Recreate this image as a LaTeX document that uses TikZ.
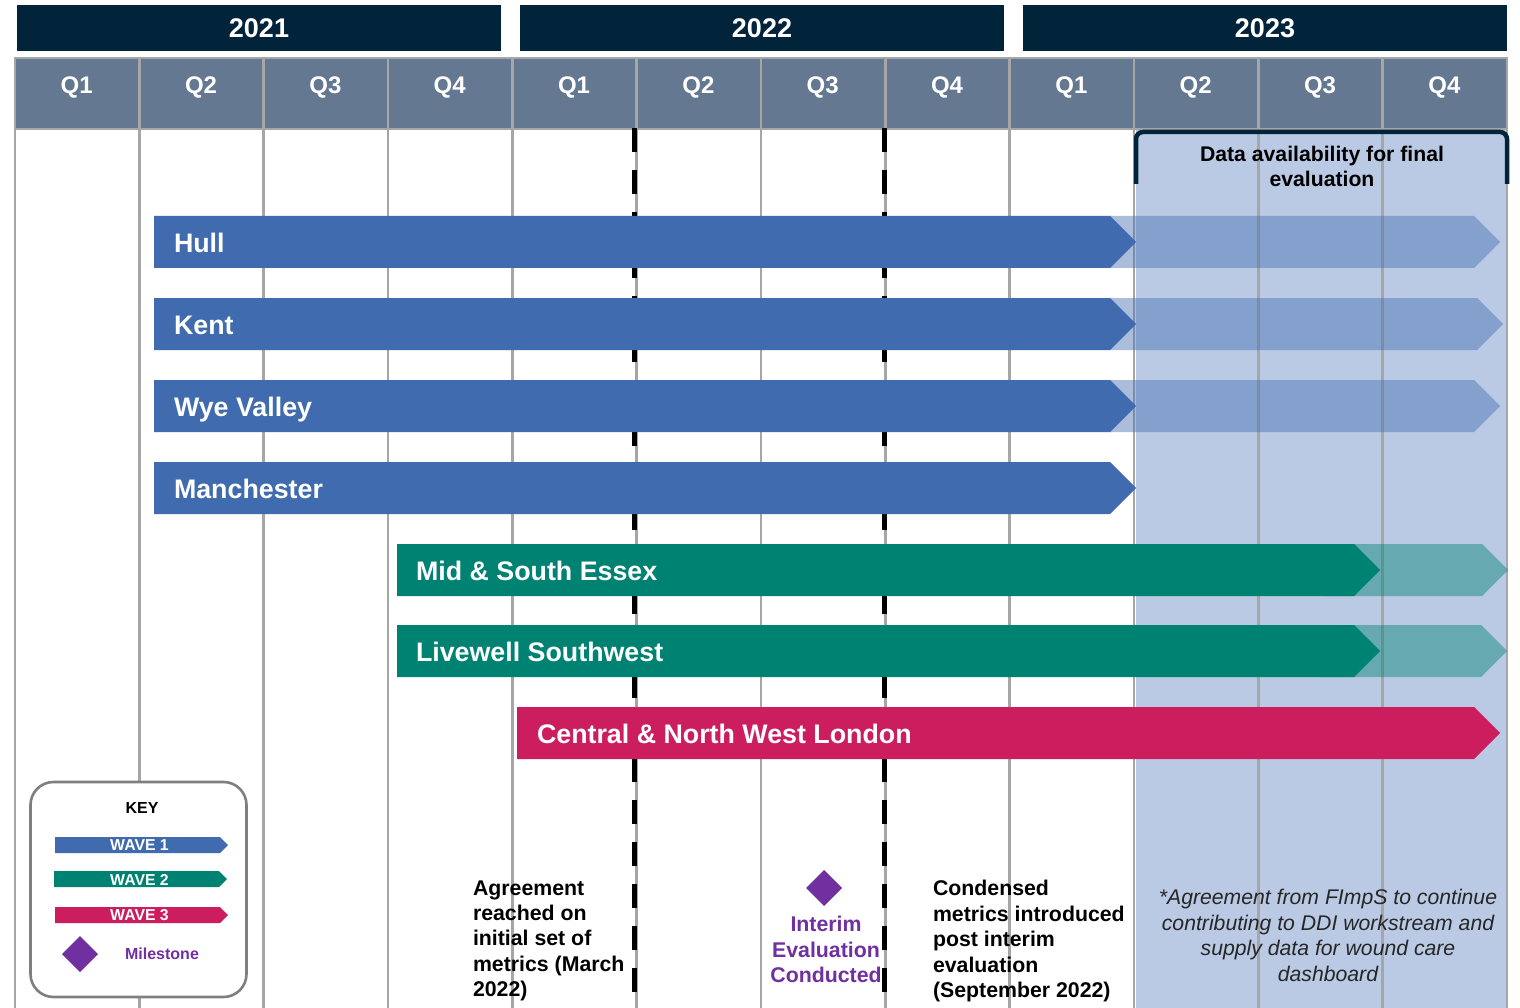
\documentclass[tikz,border=0pt]{standalone}
\usepackage{fontspec}
\setmainfont{Liberation Sans}
\usetikzlibrary{shapes.geometric}
\definecolor{navy}{HTML}{02243B}
\definecolor{qhead}{HTML}{647891}
\definecolor{gridgray}{HTML}{A6A6A6}
\definecolor{shadeblue}{HTML}{BACAE4}
\definecolor{wblue}{HTML}{406BAE}
\definecolor{wgreen}{HTML}{008272}
\definecolor{wpink}{HTML}{CC1E5F}
\definecolor{mpurple}{HTML}{7030A0}
\definecolor{keygray}{HTML}{7F7F7F}
\definecolor{notegray}{HTML}{262626}
\newcommand\fsz[2]{\fontsize{#1}{#2}\selectfont}
\newcommand\arrbar[6]{\fill[#4,opacity=#6] (#1,#3) -- ({#2-#5},#3) -- (#2,{#3+#5}) -- ({#2-#5},{#3+2*#5}) -- (#1,{#3+2*#5}) -- cycle;}
\begin{document}
\begin{tikzpicture}[x=1pt,y=-1pt,
  every node/.style={inner sep=0pt,outer sep=0pt},
  yearbox/.style={fill=navy,text=white,font=\bfseries\fsz{27}{30},minimum width=484,minimum height=46},
  qlabel/.style={text=white,font=\bfseries\fsz{24}{28}},
  gridline/.style={draw=gridgray,line width=2.6},
  dashline/.style={draw=black,line width=5,dash pattern=on 24pt off 18pt},
  barlabel/.style={text=white,font=\bfseries\fsz{26.8}{30},anchor=base west},
  bodytext/.style={text=black,font=\bfseries\fsz{21.3}{25.4},align=left,anchor=north west},
  wavelabel/.style={text=white,font=\bfseries\fsz{15.8}{18}},
  milestone/.style={diamond,fill=mpurple,minimum width=36,minimum height=36}
]
\useasboundingbox (0,0) rectangle (1520,1008);
\fill[white] (0,0) rectangle (1520,1008);
% shaded final-evaluation region
\fill[shadeblue] (1136,130) rectangle (1507,1008);
% quarter header
\fill[qhead] (15,58) rectangle (1507,129);
\foreach \i in {0,...,12} \draw[gridline] ({15+\i*124.333},57) -- ({15+\i*124.333},1008);
\draw[gridline] (15,58) -- (1507,58);
\draw[gridline] (15,129) -- (1507,129);
% years
\node[yearbox] (y2021) at (259,28.5) {2021};
\node[yearbox] (y2022) at (762,28.5) {2022};
\node[yearbox] (y2023) at (1265,28.5) {2023};
% quarters
\foreach \q [count=\i from 0] in {Q1,Q2,Q3,Q4,Q1,Q2,Q3,Q4,Q1,Q2,Q3,Q4}
  \node[qlabel] (q\i) at ({76.7+\i*124.333},87.3) {\q};
% milestone dashed lines
\draw[dashline] (634.5,128) -- (634.5,1008);
\draw[dashline] (884.5,128) -- (884.5,1008);
% faded extensions
\arrbar{1110}{1500}{216}{wblue}{26}{0.44}
\arrbar{1110}{1503}{298}{wblue}{26}{0.44}
\arrbar{1110}{1500}{380}{wblue}{26}{0.44}
\arrbar{1325}{1508}{544}{wgreen}{26}{0.45}
\arrbar{1322}{1507}{625}{wgreen}{26}{0.45}
% solid bars
\arrbar{154}{1136}{216}{wblue}{26}{1}
\arrbar{154}{1136}{298}{wblue}{26}{1}
\arrbar{154}{1136}{380}{wblue}{26}{1}
\arrbar{154}{1136}{462}{wblue}{26}{1}
\arrbar{397}{1380}{544}{wgreen}{26}{1}
\arrbar{397}{1380}{625}{wgreen}{26}{1}
\arrbar{517}{1500}{707}{wpink}{26}{1}
\node[barlabel] (hull) at (174,252.5) {Hull};
\node[barlabel] (kent) at (174,334.5) {Kent};
\node[barlabel] (wye) at (174,416.5) {Wye Valley};
\node[barlabel] (man) at (174,498.5) {Manchester};
\node[barlabel] (mse) at (416,580.5) {Mid \& South Essex};
\node[barlabel] (lsw) at (416,661.5) {Livewell Southwest};
\node[barlabel] (cnwl) at (537,743.5) {Central \& North West London};
% bracket
\draw[navy,line width=4.5,rounded corners=7] (1136,184) -- (1136,132) -- (1507,132) -- (1507,184);
\node[font=\bfseries\fsz{21.2}{24.6},align=center,anchor=north] (data) at (1322,146.5) {Data availability for final\\evaluation};
% bottom notes
\node[bodytext] (agree) at (473,880.5) {Agreement\\reached on\\initial set of\\metrics (March\\2022)};
\node[milestone] (ms) at (824,888) {};
\node[font=\bfseries\fsz{21.3}{25.6},text=mpurple,align=center,anchor=north] (interim) at (826,916) {Interim\\Evaluation\\Conducted};
\node[bodytext] (cond) at (933,880.5) {Condensed\\metrics introduced\\post interim\\evaluation\\(September 2022)};
\node[font=\itshape\fsz{21.2}{25.4},text=notegray,align=center,anchor=north] (note) at (1328,889.5) {*Agreement from FImpS to continue\\contributing to DDI workstream and\\supply data for wound care\\dashboard};
% key
\node[draw=keygray,fill=white,line width=2.6,rounded corners=23,minimum width=216,minimum height=215] (key) at (138.5,889.5) {};
\node[font=\bfseries\fsz{16}{19}] (keyt) at (142,808) {KEY};
\arrbar{55}{228}{837}{wblue}{8}{1}
\arrbar{54}{227}{871}{wgreen}{8}{1}
\arrbar{55}{228}{907}{wpink}{8}{1}
\node[wavelabel] (w1) at (139.5,845.5) {WAVE 1};
\node[wavelabel] (w2) at (139.5,879.5) {WAVE 2};
\node[wavelabel] (w3) at (139.5,915.5) {WAVE 3};
\node[milestone] (kms) at (80,954) {};
\node[font=\bfseries\fsz{16}{19},text=mpurple] (kml) at (162,953.5) {Milestone};
\end{tikzpicture}
\end{document}
